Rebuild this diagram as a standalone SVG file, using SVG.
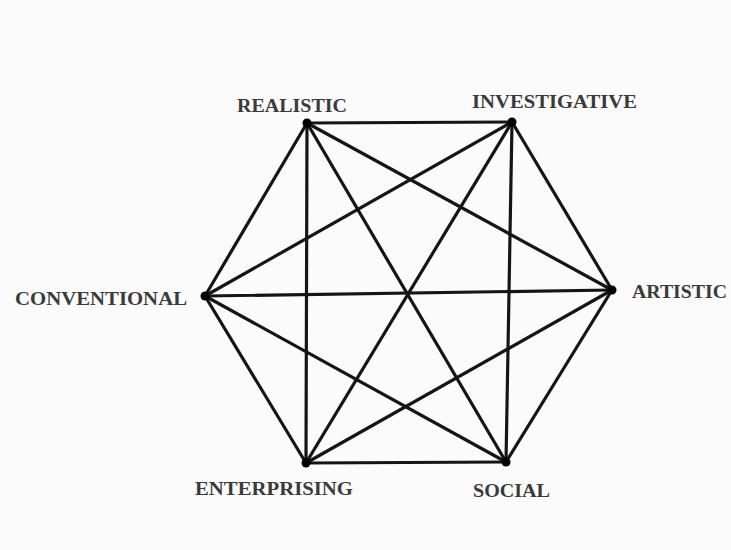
<svg xmlns="http://www.w3.org/2000/svg" width="731" height="550" viewBox="0 0 731 550">
<style>
.e{stroke:#151515;stroke-width:3.2;stroke-linecap:round;fill:none}
.d{fill:#000}
.t{font-family:"Liberation Serif","Times New Roman",serif;font-weight:bold;font-size:19px;fill:#3a3a3a}
</style>
<rect width="731" height="550" fill="#fbfbfb"/>
<g id="connectors">
<line class="e" x1="307" y1="123" x2="512" y2="122"/>
<line class="e" x1="307" y1="123" x2="612" y2="290"/>
<line class="e" x1="307" y1="123" x2="506" y2="462"/>
<line class="e" x1="307" y1="123" x2="306" y2="463"/>
<line class="e" x1="307" y1="123" x2="205" y2="296"/>
<line class="e" x1="512" y1="122" x2="612" y2="290"/>
<line class="e" x1="512" y1="122" x2="506" y2="462"/>
<line class="e" x1="512" y1="122" x2="306" y2="463"/>
<line class="e" x1="512" y1="122" x2="205" y2="296"/>
<line class="e" x1="612" y1="290" x2="506" y2="462"/>
<line class="e" x1="612" y1="290" x2="306" y2="463"/>
<line class="e" x1="612" y1="290" x2="205" y2="296"/>
<line class="e" x1="506" y1="462" x2="306" y2="463"/>
<line class="e" x1="506" y1="462" x2="205" y2="296"/>
<line class="e" x1="306" y1="463" x2="205" y2="296"/>
</g>
<g id="realistic"><circle class="d" cx="307" cy="123" r="4.5"/><text class="t" x="237" y="112" textLength="110" lengthAdjust="spacingAndGlyphs">REALISTIC</text></g>
<g id="investigative"><circle class="d" cx="512" cy="122" r="4.5"/><text class="t" x="472" y="108" textLength="165" lengthAdjust="spacingAndGlyphs">INVESTIGATIVE</text></g>
<g id="artistic"><circle class="d" cx="612" cy="290" r="4.5"/><text class="t" x="632" y="298" textLength="95" lengthAdjust="spacingAndGlyphs">ARTISTIC</text></g>
<g id="social"><circle class="d" cx="506" cy="462" r="4.5"/><text class="t" x="473" y="497" textLength="77" lengthAdjust="spacingAndGlyphs">SOCIAL</text></g>
<g id="enterprising"><circle class="d" cx="306" cy="463" r="4.5"/><text class="t" x="195" y="495" textLength="158" lengthAdjust="spacingAndGlyphs">ENTERPRISING</text></g>
<g id="conventional"><circle class="d" cx="205" cy="296" r="4.5"/><text class="t" x="15" y="305" textLength="172" lengthAdjust="spacingAndGlyphs">CONVENTIONAL</text></g>
</svg>
